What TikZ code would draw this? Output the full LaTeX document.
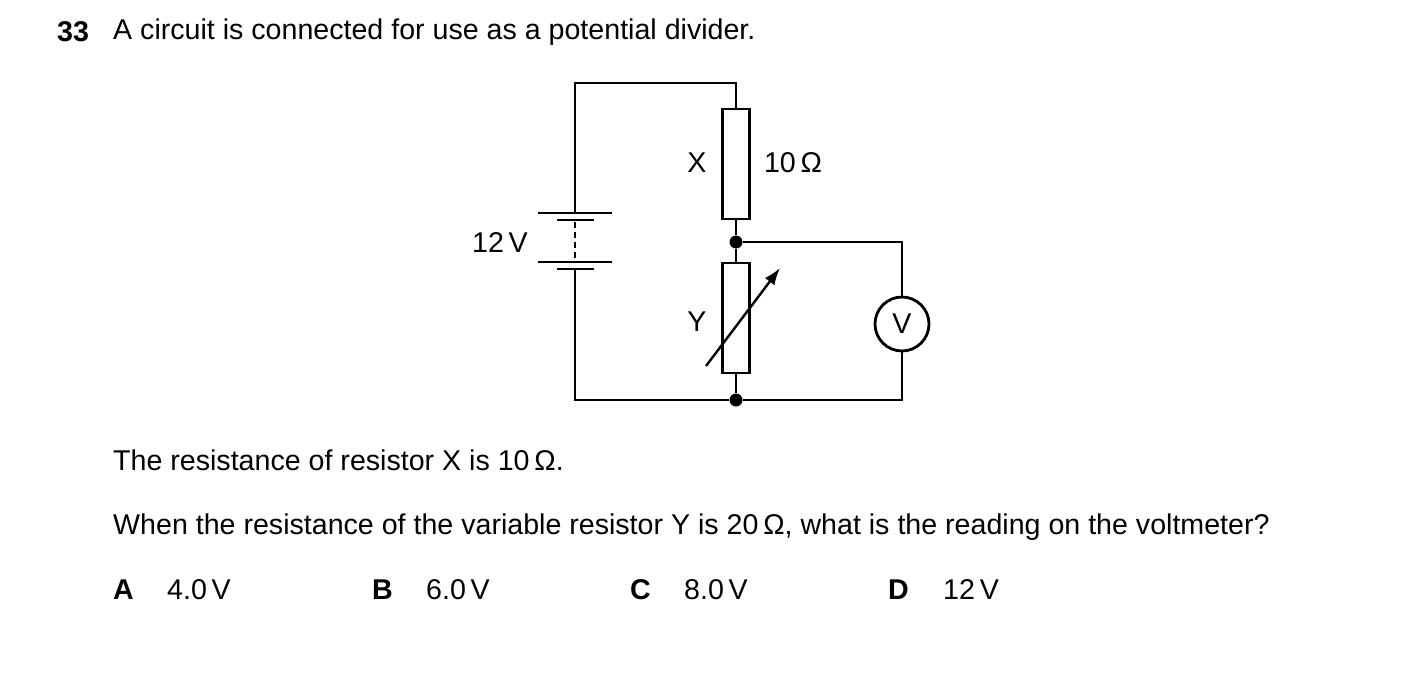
\documentclass[tikz,border=0pt]{standalone}
\usepackage{fontspec}
\setmainfont{Liberation Sans}
\usetikzlibrary{arrows.meta}
\begin{document}
\begin{tikzpicture}[x=1pt,y=-1pt,
  wire/.style={line width=2.8pt},
  txt/.style={anchor=west,inner sep=0pt,font=\fontsize{28.6}{32}\selectfont},
  lbl/.style={inner sep=0pt,font=\fontsize{28.6}{32}\selectfont},
  res/.style={draw,line width=2.8pt,fill=white,minimum width=27pt,minimum height=110pt,inner sep=0pt},
  dot/.style={circle,fill=black,inner sep=0pt,minimum size=13pt}]
\useasboundingbox (0,0) rectangle (1403,697);
% nodes
\node[res] (X) at (736,164) {};
\node[res] (Y) at (736,318) {};
\node[dot] (J1) at (736,242) {};
\node[dot] (J2) at (736,400) {};
\node[draw,circle,line width=2.8pt,minimum size=54pt,inner sep=0pt,font=\fontsize{28.6}{32}\selectfont] (V) at (902,324) {V};
\coordinate (TL) at (575,83);
\coordinate (BL) at (575,400);
\coordinate (TR) at (902,242);
\coordinate (BR) at (902,400);
\coordinate (B1) at (575,213);
\coordinate (B2) at (575,269);
% wires
\draw[wire] (B1) -- (TL) -| (X.north);
\draw[wire] (X.south) -- (J1) -- (Y.north);
\draw[wire] (Y.south) -- (J2);
\draw[wire] (J1) -- (TR) -- (V.north);
\draw[wire] (V.south) -- (BR) -- (J2) -- (BL) -- (B2);
% battery
\draw[wire] (538,213) -- (612,213);
\draw[wire] (557,220) -- (594,220);
\draw[wire] (538,262) -- (612,262);
\draw[wire] (557,269) -- (594,269);
\draw[line width=2.4pt,dash pattern=on 6pt off 4pt] (575,222) -- (575,260);
% variable arrow
\coordinate (A1) at (706,366);
\coordinate (A2) at (780,268);
\draw[line width=2.4pt,-{Latex[length=17pt,width=12pt]}] (A1) -- (A2);
% labels
\node[lbl] (lx) at (697,163) {X};
\node[lbl] (lr) at (793,163) {10\,Ω};
\node[lbl] (lv) at (500,243) {12\,V};
\node[lbl] (ly) at (697,322) {Y};
% text
\node[txt,font=\fontsize{28.6}{32}\selectfont\bfseries] (q) at (57,32) {33};
\node[txt] (t1) at (113,32) {A circuit is connected for use as a potential divider.};
\node[txt] (t2) at (113,460) {The resistance of resistor X is 10\,Ω.};
\node[txt] (t3) at (113,527) {When the resistance of the variable resistor Y is 20\,Ω, what is the reading on the voltmeter?};
\node[txt,font=\fontsize{28.6}{32}\selectfont\bfseries] (a) at (113,590) {A};
\node[txt] (av) at (167,590) {4.0\,V};
\node[txt,font=\fontsize{28.6}{32}\selectfont\bfseries] (b) at (372,590) {B};
\node[txt] (bv) at (426,590) {6.0\,V};
\node[txt,font=\fontsize{28.6}{32}\selectfont\bfseries] (c) at (630,590) {C};
\node[txt] (cv) at (684,590) {8.0\,V};
\node[txt,font=\fontsize{28.6}{32}\selectfont\bfseries] (d) at (888,590) {D};
\node[txt] (dv) at (943,590) {12\,V};
\end{tikzpicture}
\end{document}
